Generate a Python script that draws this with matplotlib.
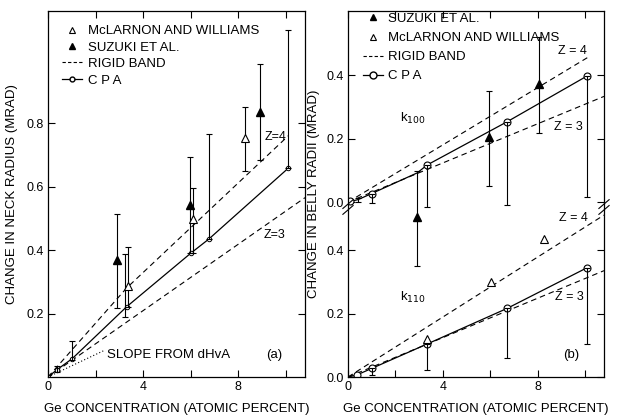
import matplotlib
matplotlib.use("Agg")
import matplotlib.pyplot as plt
from matplotlib.lines import Line2D

plt.rcParams['font.family'] = ['Liberation Sans', 'DejaVu Sans']
plt.rcParams['font.size'] = 9

# ---------------- Panel (a): neck radius ----------------
a_mcl_x = [8.29, 6.08, 3.38]
a_mcl_y = [0.752, 0.498, 0.287]
a_suz_x = [8.9, 5.95, 2.89]
a_suz_y = [0.834, 0.542, 0.368]
a_cpa_x = [0.0, 0.36, 1.02, 3.3, 6.0, 6.75, 10.1]
a_cpa_y = [0.0, 0.022, 0.058, 0.221, 0.39, 0.434, 0.658]
a_z4_x = [0.0, 3.3, 10.1]
a_z4_y = [0.0, 0.28, 0.76]
a_z3_x = [0.0, 10.8]
a_z3_y = [0.0, 0.565]
a_dhva_x = [0.0, 2.4]
a_dhva_y = [0.0, 0.085]
a_bar_x = [10.1, 8.9, 8.29, 6.75, 5.95, 6.08, 2.89, 3.24, 3.38, 1.02, 0.36]
a_bar_lo = [0.658, 0.683, 0.650, 0.434, 0.39, 0.39, 0.216, 0.19, 0.221, 0.054, 0.017]
a_bar_hi = [1.093, 0.985, 0.849, 0.765, 0.692, 0.594, 0.515, 0.387, 0.408, 0.114, 0.035]

# ---------------- Panel (b): belly radii ----------------
# k100 (upper, offset scale)
b100_suz_x = [8.06, 5.94, 2.92]
b100_suz_y = [0.372, 0.204, -0.047]
b100_cpa_x = [0.0, 0.43, 1.0, 2.92, 3.34, 6.71, 10.08]
b100_cpa_y = [0.0, 0.008, 0.027, 0.092, 0.117, 0.253, 0.397]
b100_cpa_mk_x = [0.08, 1.0, 3.34, 6.71, 10.08]
b100_cpa_mk_y = [0.004, 0.027, 0.117, 0.253, 0.397]
b100_z4_x = [0.0, 10.12]
b100_z4_y = [0.0, 0.456]
b100_z3_x = [0.0, 10.8]
b100_z3_y = [0.0, 0.333]
b100_bar_x = [8.06, 5.94, 2.92, 10.08, 6.71, 3.34, 1.0, 0.43]
b100_bar_lo = [0.218, 0.051, -0.20, 0.017, -0.009, -0.015, -0.004, 0.0]
b100_bar_hi = [0.521, 0.35, 0.099, 0.397, 0.253, 0.117, 0.027, 0.012]

# k110 (lower scale)
b110_mcl_x = [3.34, 6.05, 8.25]
b110_mcl_y = [0.119, 0.300, 0.434]
b110_cpa_x = [0.0, 0.36, 1.0, 3.34, 6.71, 10.08]
b110_cpa_y = [0.0, 0.006, 0.027, 0.104, 0.216, 0.344]
b110_z4_x = [0.0, 10.8]
b110_z4_y = [0.0, 0.51]
b110_z3_x = [0.0, 10.8]
b110_z3_y = [0.0, 0.335]
b110_bar_x = [10.08, 6.71, 3.34, 1.0]
b110_bar_lo = [0.104, 0.059, 0.022, 0.006]
b110_bar_hi = [0.344, 0.216, 0.104, 0.027]

OFFSET = 0.551  # vertical offset of the k100 scale on the broken axis

x_ticks_major = [0, 4, 8]
x_ticks_all = [0, 2, 4, 6, 8, 10]

fig = plt.figure(figsize=(6.18, 4.17), dpi=100)
W, H = 618.0, 417.0
axa = fig.add_axes([48 / W, 1 - 377 / H, 257 / W, 366 / H])
axb = fig.add_axes([348 / W, 1 - 377 / H, 256 / W, 366 / H])

lw = 0.9
dash = (0, (5, 3.5))


def style(ax):
    ax.set_xlim(0, 10.8)
    ax.set_ylim(0, 1.153)
    ax.set_xticks(x_ticks_all)
    ax.set_xticklabels([str(t) if t in x_ticks_major else '' for t in x_ticks_all])
    ax.tick_params(direction='in', top=True, right=True, length=5, width=0.8,
                   labelsize=9, pad=3)
    for s in ax.spines.values():
        s.set_linewidth(0.9)
    ax.set_xlabel('Ge CONCENTRATION (ATOMIC PERCENT)', fontsize=9.5, labelpad=7)


# ---------- Panel (a) ----------
style(axa)
axa.set_yticks([0.2, 0.4, 0.6, 0.8])
axa.set_yticklabels(['0.2', '0.4', '0.6', '0.8'])
axa.set_ylabel('CHANGE IN NECK RADIUS (MRAD)', fontsize=9.5, labelpad=6)

axa.plot(a_z4_x, a_z4_y, color='black', lw=0.8, linestyle=dash)
axa.plot(a_z3_x, a_z3_y, color='black', lw=0.8, linestyle=dash)
axa.plot(a_dhva_x, a_dhva_y, color='black', lw=0.8, linestyle=(0, (1, 2)))
axa.plot(a_cpa_x, a_cpa_y, color='black', lw=lw, marker='o', ms=3.2,
         mfc='white', mec='black', mew=0.7)
axa.errorbar(a_bar_x, [(l + h) / 2 for l, h in zip(a_bar_lo, a_bar_hi)],
             yerr=[[(h - l) / 2 for l, h in zip(a_bar_lo, a_bar_hi)],
                   [(h - l) / 2 for l, h in zip(a_bar_lo, a_bar_hi)]],
             fmt='none', ecolor='black', elinewidth=0.8, capsize=2, capthick=0.8)
axa.plot(a_mcl_x, a_mcl_y, linestyle='none', marker='^', ms=5.5,
         mfc='white', mec='black', mew=0.8)
axa.plot(a_suz_x, a_suz_y, linestyle='none', marker='^', ms=5.5,
         mfc='black', mec='black')

axa.text(9.55, 0.757, 'Z=4', fontsize=9, ha='center', va='center')
axa.text(9.5, 0.447, 'Z=3', fontsize=9, ha='center', va='center')
axa.text(9.5, 0.07, '(a)', fontsize=9.5, ha='center', va='center')
axa.text(2.5, 0.07, 'SLOPE FROM dHvA', fontsize=9.5, ha='left', va='center')

h_a = [Line2D([], [], ls='none', marker='^', ms=5, mfc='white', mec='black', mew=0.8),
       Line2D([], [], ls='none', marker='^', ms=5, mfc='black', mec='black'),
       Line2D([], [], color='black', lw=0.8, ls=(0, (3, 2))),
       Line2D([], [], color='black', lw=0.9, marker='o', ms=3.5, mfc='white', mec='black')]
axa.legend(h_a, ['McLARNON AND WILLIAMS', 'SUZUKI ET AL.', 'RIGID BAND', 'C P A'],
           loc='upper left', bbox_to_anchor=(0.054, 0.962), frameon=False,
           borderpad=0, borderaxespad=0, handlelength=1.5, handletextpad=0.5,
           labelspacing=0.32, fontsize=9.5)

# ---------- Panel (b) ----------
style(axb)
yt = [0.0, 0.2, 0.4]
axb.set_yticks(yt + [v + OFFSET for v in yt])
axb.set_yticklabels(['0.0', '0.2', '0.4', '0.0', '0.2', '0.4'])
axb.set_ylabel('CHANGE IN BELLY RADII (MRAD)', fontsize=9.5, labelpad=5)

# k100 (shifted)
up = lambda ys: [v + OFFSET for v in ys]
axb.plot(b100_z4_x, up(b100_z4_y), color='black', lw=0.8, linestyle=dash)
axb.plot(b100_z3_x, up(b100_z3_y), color='black', lw=0.8, linestyle=dash)
axb.plot(b100_cpa_x, up(b100_cpa_y), color='black', lw=lw)
axb.plot(b100_cpa_mk_x, up(b100_cpa_mk_y), ls='none', marker='o', ms=5,
         mfc='white', mec='black', mew=0.8)
mid = [(l + h) / 2 for l, h in zip(b100_bar_lo, b100_bar_hi)]
half = [(h - l) / 2 for l, h in zip(b100_bar_lo, b100_bar_hi)]
axb.errorbar(b100_bar_x, up(mid), yerr=[half, half], fmt='none', ecolor='black',
             elinewidth=0.8, capsize=2, capthick=0.8)
axb.plot(b100_suz_x, up(b100_suz_y), ls='none', marker='^', ms=5.5,
         mfc='black', mec='black')

# k110
axb.plot(b110_z4_x, b110_z4_y, color='black', lw=0.8, linestyle=dash)
axb.plot(b110_z3_x, b110_z3_y, color='black', lw=0.8, linestyle=dash)
axb.plot(b110_cpa_x, b110_cpa_y, color='black', lw=lw)
axb.plot(b110_cpa_x[1:], b110_cpa_y[1:], ls='none', marker='o', ms=5,
         mfc='white', mec='black', mew=0.8)
mid = [(l + h) / 2 for l, h in zip(b110_bar_lo, b110_bar_hi)]
half = [(h - l) / 2 for l, h in zip(b110_bar_lo, b110_bar_hi)]
axb.errorbar(b110_bar_x, mid, yerr=[half, half], fmt='none', ecolor='black',
             elinewidth=0.8, capsize=2, capthick=0.8)
axb.plot(b110_mcl_x, b110_mcl_y, ls='none', marker='^', ms=5.5,
         mfc='white', mec='black', mew=0.8)

axb.text(2.75, 0.265 + OFFSET, r'k$_{100}$', fontsize=9.5, ha='center', va='center')
axb.text(2.75, 0.25, r'k$_{110}$', fontsize=9.5, ha='center', va='center')
axb.text(9.45, 0.477 + OFFSET, 'Z = 4', fontsize=9, ha='center', va='center')
axb.text(9.3, 0.237 + OFFSET, 'Z = 3', fontsize=9, ha='center', va='center')
axb.text(9.5, 0.50, 'Z = 4', fontsize=9, ha='center', va='center')
axb.text(9.35, 0.253, 'Z = 3', fontsize=9, ha='center', va='center')
axb.text(9.4, 0.069, '(b)', fontsize=9.5, ha='center', va='center')

# axis break marks
yb = (377 - 207) / 366.0
for xa in (0.0, 1.0):
    for dy in (-0.008, 0.008):
        axb.plot([xa - 0.02, xa + 0.02], [yb + dy - 0.012, yb + dy + 0.012],
                 transform=axb.transAxes, color='black', lw=0.8, clip_on=False)

h_b = [Line2D([], [], ls='none', marker='^', ms=5, mfc='black', mec='black'),
       Line2D([], [], ls='none', marker='^', ms=5, mfc='white', mec='black', mew=0.8),
       Line2D([], [], color='black', lw=0.8, ls=(0, (3, 2))),
       Line2D([], [], color='black', lw=0.9, marker='o', ms=5, mfc='white', mec='black')]
axb.legend(h_b, ['SUZUKI ET AL.', 'McLARNON AND WILLIAMS', 'RIGID BAND', 'C P A'],
           loc='upper left', bbox_to_anchor=(0.059, 0.995), frameon=False,
           borderpad=0, borderaxespad=0, handlelength=1.5, handletextpad=0.35,
           labelspacing=0.52, fontsize=9.5)

fig.savefig('out.png', dpi=100)
